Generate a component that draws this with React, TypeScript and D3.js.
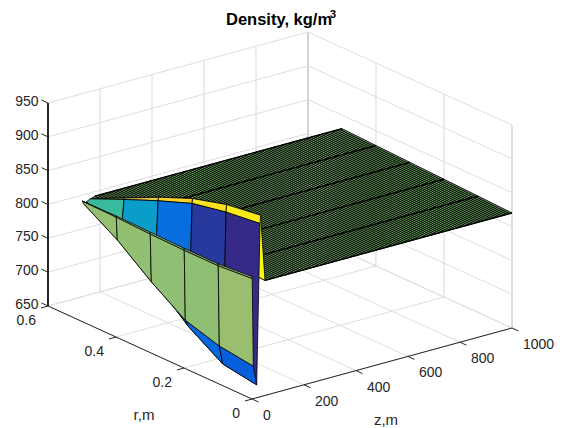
import React from "react";
import * as d3 from "d3";

// mesh
const rValues = [0, 0.1, 0.2, 0.3, 0.4, 0.5];
const frontZ = [0, 1, 5, 18, 31, 33];
const frontRows = [
  [831, 827, 827, 828, 829, 828],
  [828, 824, 824, 825, 827, 828],
  [698, 705, 720, 754, 793, 824],
  [669, 677, 709, 753, 794, 825],
  [906, 900, 890, 871, 850, 828],
  [918, 911, 897, 876, 852, 828],
];
const plateauRow = [820, 822, 824, 826, 828, 830];
const plateauStart = 50;
const plateauEnd = 1000;
const plateauStep = 10;

const zTicks = [0, 200, 400, 600, 800, 1000];
const rTicks = [0, 0.2, 0.4, 0.6];
const vTicks = [650, 700, 750, 800, 850, 900, 950];

// 9 step parula
const parula = ["#352a87", "#0363e1", "#1485d4", "#06a7c6", "#38b99e", "#92bf73", "#d9ba56", "#fcce2e", "#f9fb0e"];
const denseGreen = "#4d6e47";
const plateauFill = "#64995a";

const width = 569;
const height = 428;

// oblique projection of the 3d box
const zx = d3.scaleLinear().domain([0, 1000]).range([0, 260]);
const zy = d3.scaleLinear().domain([0, 1000]).range([0, -71]);
const rx = d3.scaleLinear().domain([0, 0.6]).range([0, -204]);
const ry = d3.scaleLinear().domain([0, 0.6]).range([0, -93]);
const vy = d3.scaleLinear().domain([650, 950]).range([0, -203]);
const ox = 252;
const oy = 399;

const proj = (z: number, r: number, v: number): [number, number] => [
  ox + zx(z) + rx(r),
  oy + zy(z) + ry(r) + vy(v),
];

const color = d3
  .scaleLinear<string>()
  .domain(parula.map((_, i) => 669 + (i / 8) * (918 - 669)))
  .range(parula)
  .interpolate(d3.interpolateRgb);

const poly = d3.line();

const plateauZ = d3.range(plateauStart, plateauEnd + 1, plateauStep);
const zGrid = [...frontZ, ...plateauZ];
const rows = [...frontRows, ...plateauZ.map(() => plateauRow)];

type Face = { d: string; fill: string };
const plateauLines: string[] = [];
const faces: Face[] = [];
const plateauFaces: Face[] = [];
const quad = (i: number, j: number) =>
  poly([
    proj(zGrid[i], rValues[j], rows[i][j]),
    proj(zGrid[i], rValues[j + 1], rows[i][j + 1]),
    proj(zGrid[i + 1], rValues[j + 1], rows[i + 1][j + 1]),
    proj(zGrid[i + 1], rValues[j], rows[i + 1][j]),
  ]) + "Z";

// back to front: far z first, far r first
const ridge = frontZ.length - 1;
for (let i = zGrid.length - 2; i >= 0; i--) {
  for (let j = rValues.length - 2; j >= 0; j--) {
    if (i > ridge) {
      plateauFaces.push({ d: quad(i, j), fill: plateauFill });
    } else if (i === ridge && j > 0) {
      // behind the ridge the mesh is dense too, so it reads as dark green
      faces.push({ d: quad(i, j), fill: denseGreen });
    } else {
      faces.push({ d: quad(i, j), fill: color(rows[i][j]) });
    }
  }
}
// long lines along z across the plateau
rValues.forEach((r, j) => {
  plateauLines.push(poly([proj(plateauStart, r, plateauRow[j]), proj(plateauEnd, r, plateauRow[j])]) as string);
});

const grid = "#dedede";
const axisCol = "#262626";
const font = "'Liberation Sans', Arial, sans-serif";

const seg = (a: [number, number], b: [number, number]) => poly([a, b]) as string;

export default function App() {
  const zMax = 1000;
  const rMax = 0.6;
  const vMin = 650;
  const vMax = 950;
  return (
    <svg
      width={width}
      height={height}
      style={{ position: "absolute", left: 0, top: 0, background: "#fff" }}
      fontFamily={font}
    >
      {/* floor and wall grid */}
      <g fill="none" stroke={grid} strokeWidth={1}>
        {zTicks.map((z) => (
          <g key={z}>
            <path d={seg(proj(z, 0, vMin), proj(z, rMax, vMin))} />
            <path d={seg(proj(z, rMax, vMin), proj(z, rMax, vMax))} strokeWidth={z === zMax ? 2 : 1.2} stroke={z === zMax ? "#c4c4c4" : grid} />
          </g>
        ))}
        {rTicks.map((r) => (
          <g key={r}>
            <path d={seg(proj(0, r, vMin), proj(zMax, r, vMin))} />
            <path d={seg(proj(zMax, r, vMin), proj(zMax, r, vMax))} strokeWidth={r === 0 ? 2 : 1.2} />
          </g>
        ))}
        {vTicks.map((v) => (
          <g key={v}>
            <path d={seg(proj(0, rMax, v), proj(zMax, rMax, v))} />
            <path d={seg(proj(zMax, rMax, v), proj(zMax, 0, v))} />
          </g>
        ))}
      </g>

      {/* axes */}
      <g fill="none" stroke={axisCol} strokeWidth={1}>
        <path d={seg(proj(0, 0, vMin), proj(zMax, 0, vMin))} />
        <path d={seg(proj(0, 0, vMin), proj(0, rMax, vMin))} />
        <path d={seg(proj(0, rMax, vMin), proj(0, rMax, vMax))} strokeWidth={2} />
        {zTicks.map((z) => {
          const [x, y] = proj(z, 0, vMin);
          return <path key={z} d={seg([x, y], [x + 6.5, y + 3])} />;
        })}
        {rTicks.map((r) => {
          const [x, y] = proj(0, r, vMin);
          return <path key={r} d={seg([x, y], [x - 7, y + 2])} />;
        })}
        {vTicks.map((v) => {
          const [x, y] = proj(0, rMax, v);
          return <path key={v} d={seg([x, y], [x - 6.5, y - 3])} />;
        })}
      </g>

      {/* surface */}
      <g stroke="#000" strokeWidth={0.9}>
        {plateauFaces.map((f, i) => (
          <path key={i} d={f.d} fill={f.fill} />
        ))}
      </g>
      <g fill="none" stroke="#000" strokeWidth={1.3}>
        {plateauLines.map((d, i) => (
          <path key={i} d={d} />
        ))}
      </g>
      <g stroke="#000" strokeWidth={0.8} strokeLinejoin="round">
        {faces.map((f, i) => (
          <path key={i} d={f.d} fill={f.fill} />
        ))}
      </g>

      {/* tick labels */}
      <g fill={axisCol} fontSize={14}>
        {vTicks.map((v) => {
          const [x, y] = proj(0, rMax, v);
          return (
            <text key={v} x={x - 9.5} y={y - 2} textAnchor="end" dominantBaseline="central">
              {v}
            </text>
          );
        })}
        {rTicks.map((r) => {
          const [x, y] = proj(0, r, vMin);
          return (
            <text key={r} x={x - 12} y={y + 14} textAnchor="end" dominantBaseline="central">
              {r}
            </text>
          );
        })}
        {zTicks.map((z) => {
          const [x, y] = proj(z, 0, vMin);
          return (
            <text key={z} x={x + 11} y={y + 16} textAnchor="start" dominantBaseline="central">
              {z}
            </text>
          );
        })}
        <text x={386} y={419} textAnchor="middle" dominantBaseline="central" fontSize={15}>
          z,m
        </text>
        <text x={144} y={414} textAnchor="middle" dominantBaseline="central" fontSize={15}>
          r,m
        </text>
      </g>

      <text x={226} y={25} fontSize={16.5} fontWeight="bold" fill="#000">
        Density, kg/m
      </text>
      <text x={330} y={18} fontSize={11} fontWeight="bold" fill="#000">
        3
      </text>
    </svg>
  );
}
